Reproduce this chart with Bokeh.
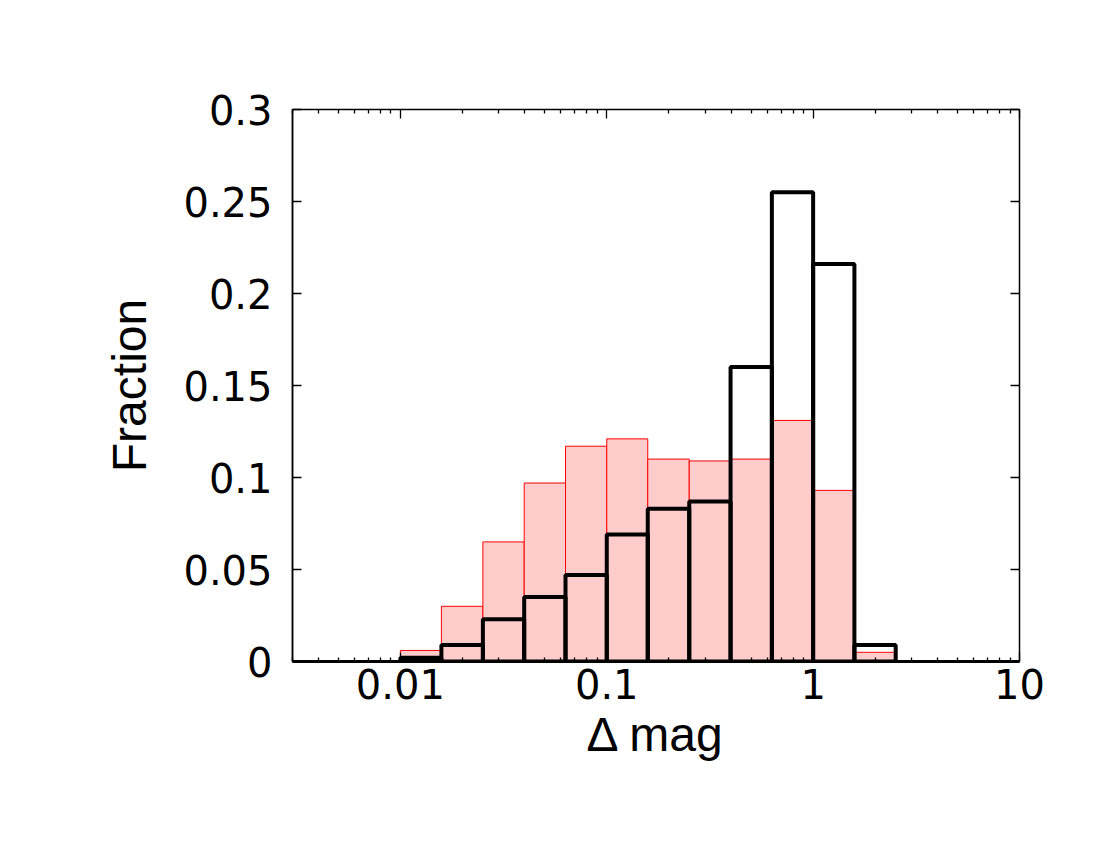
from bokeh.plotting import figure
from bokeh.models import Range1d, FixedTicker, LinearAxis, LogAxis, ColumnDataSource
from bokeh.embed import file_html
from bokeh.resources import INLINE

# ---- data ----
bin_left = [0.01, 0.0158, 0.0251, 0.0398, 0.0631, 0.1, 0.158, 0.251, 0.398, 0.631, 1.0, 1.585]
bin_right = [0.0158, 0.0251, 0.0398, 0.0631, 0.1, 0.158, 0.251, 0.398, 0.631, 1.0, 1.585, 2.512]
red_frac = [0.006, 0.030, 0.065, 0.097, 0.117, 0.121, 0.110, 0.109, 0.110, 0.131, 0.093, 0.005]
black_frac = [0.002, 0.009, 0.023, 0.035, 0.047, 0.069, 0.083, 0.087, 0.160, 0.255, 0.216, 0.009]

x_major = [0.01, 0.1, 1, 10]
x_major_labels = ["0.01", "0.1", "1", "10"]
y_major = [0, 0.05, 0.1, 0.15, 0.2, 0.25, 0.3]
y_major_labels = ["0", "0.05", "0.1", "0.15", "0.2", "0.25", "0.3"]
x_minor = [m * 10.0 ** e for e in (-3, -2, -1, 0) for m in range(2, 10)]

W, H = 1092, 842
p = figure(width=W, height=H, x_axis_type="log",
           x_range=Range1d(0.003, 10), y_range=Range1d(0, 0.3),
           output_backend="svg", toolbar_location=None,
           min_border_left=292, min_border_right=73,
           min_border_top=109, min_border_bottom=181)
p.xgrid.visible = False
p.ygrid.visible = False
p.outline_line_color = "black"
p.outline_line_width = 1.5
p.background_fill_color = "white"
p.border_fill_color = "white"

src = ColumnDataSource(dict(left=bin_left, right=bin_right, red=red_frac, black=black_frac,
                            zero=[0] * len(bin_left)))
p.quad(left="left", right="right", bottom="zero", top="red", source=src,
       fill_color="#ffcccc", line_color="#ff0000", line_width=1)
p.quad(left="left", right="right", bottom="zero", top="black", source=src,
       fill_color=None, line_color="black", line_width=4)

xt = FixedTicker(ticks=x_major, minor_ticks=x_minor)
yt = FixedTicker(ticks=y_major, minor_ticks=[])

tick_font = "DejaVu Sans"
lab_font = "Liberation Sans"

def style(ax, labels=True):
    ax.major_tick_in = 9
    ax.major_tick_out = 0
    ax.minor_tick_in = 4
    ax.minor_tick_out = 0
    ax.major_tick_line_color = "black"
    ax.minor_tick_line_color = "black"
    ax.major_tick_line_width = 1.3
    ax.minor_tick_line_width = 1.3
    if labels:
        ax.major_label_text_font = tick_font
        ax.major_label_text_font_size = "40px"
        ax.major_label_text_color = "black"
    else:
        ax.major_label_text_color = None
        ax.axis_line_color = None

xa = p.xaxis[0]
xa.ticker = xt
style(xa)
xa.major_label_overrides = {v: s for v, s in zip(x_major, x_major_labels)}
xa.major_label_standoff = 7
xa.axis_line_color = "black"
xa.axis_line_width = 3
xa.axis_label = "\u0394 mag"
xa.axis_label_text_font = lab_font
xa.axis_label_text_font_style = "normal"
xa.axis_label_text_font_size = "48px"
xa.axis_label_text_color = "black"
xa.axis_label_standoff = 6

ya = p.yaxis[0]
ya.ticker = yt
style(ya)
ya.major_label_overrides = {v: s for v, s in zip(y_major, y_major_labels)}
ya.major_label_standoff = 20
ya.axis_line_color = "black"
ya.axis_line_width = 1.5
ya.axis_label = "Fraction"
ya.axis_label_text_font = lab_font
ya.axis_label_text_font_style = "normal"
ya.axis_label_text_font_size = "48px"
ya.axis_label_text_color = "black"
ya.axis_label_standoff = 24

ra = LinearAxis(ticker=yt)
style(ra, labels=False)
p.add_layout(ra, "right")
ta = LogAxis(ticker=xt)
style(ta, labels=False)
p.add_layout(ta, "above")

open("out.html", "w").write(file_html(p, INLINE))
